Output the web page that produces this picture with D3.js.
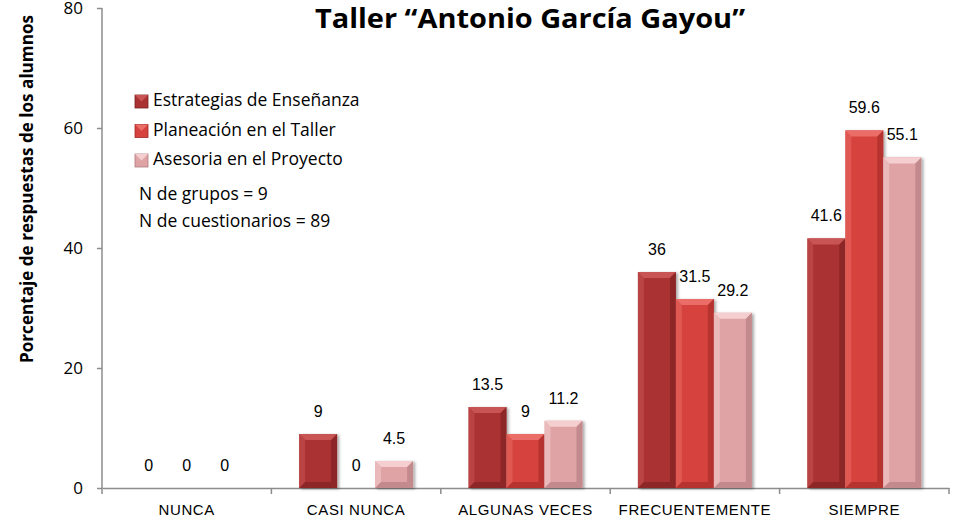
<!DOCTYPE html>
<html>
<head>
<meta charset="utf-8">
<script src="https://cdn.jsdelivr.net/npm/d3@7"></script>
<style>
body { margin: 0; background: #fff; }
svg { display: block; }
</style>
</head>
<body>
<div id="chart"></div>
<script>
"use strict";
var w = 958;
var h = 520;

var categories = ["NUNCA", "CASI NUNCA", "ALGUNAS VECES", "FRECUENTEMENTE", "SIEMPRE"];
var seriesNames = ["Estrategias de Enseñanza", "Planeación en el Taller", "Asesoria en el Proyecto"];
var estrategias = [0, 9, 13.5, 36, 41.6];
var planeacion = [0, 0, 9, 31.5, 59.6];
var asesoria = [0, 4.5, 11.2, 29.2, 55.1];
var yTicks = [0, 20, 40, 60, 80];
var notes = ["N de grupos = 9", "N de cuestionarios = 89"];

var colors = [
    {base: "#ab3232", light: "#c95454", dark: "#7a1f1f"},
    {base: "#d6423e", light: "#ea6d68", dark: "#a02a28"},
    {base: "#dfa2a5", light: "#f5cfd0", dark: "#b07a7d"}
];

function init() {
    draw();
}
window.onload = init;

function draw() {
    var margin = {top: 8, left: 102, right: 9, bottom: 32};
    var svg = d3.select("#chart").append("svg")
        .attr("width", w).attr("height", h);

    var x = d3.scaleBand()
        .domain(categories)
        .range([margin.left, w - margin.right])
        .paddingInner(0).paddingOuter(0);
    var x1 = d3.scaleBand()
        .domain(d3.range(3))
        .range([(x.bandwidth() - 114) / 2, (x.bandwidth() + 114) / 2]);
    var y = d3.scaleLinear()
        .domain([0, 80])
        .range([h - margin.bottom, margin.top]);

    var table = categories.map(function (c, i) {
        return {cat: c, vals: [estrategias[i], planeacion[i], asesoria[i]]};
    });

    // shadow filter
    var defs = svg.append("defs");
    var f = defs.append("filter").attr("id", "shadow")
        .attr("x", "-20%").attr("y", "-20%").attr("width", "150%").attr("height", "150%");
    f.append("feDropShadow").attr("dx", 2).attr("dy", 1).attr("stdDeviation", 1.5)
        .attr("flood-color", "#000").attr("flood-opacity", 0.35);

    // axes
    var yAxis = svg.append("g")
        .attr("transform", "translate(" + margin.left + ",0)")
        .call(d3.axisLeft(y).tickValues(yTicks).tickSize(5).tickPadding(14));
    yAxis.select(".domain").attr("stroke", "#8c8c8c").attr("stroke-width", 1.5).attr("d", "M0," + y(80) + "V" + y(0));
    yAxis.selectAll(".tick line").attr("stroke", "#8c8c8c").attr("stroke-width", 1.5);
    yAxis.selectAll(".tick text")
        .attr("font-family", "'Open Sans', sans-serif").attr("font-size", 17).attr("fill", "#000");

    var xAxis = svg.append("g")
        .attr("transform", "translate(0," + y(0) + ")")
        .call(d3.axisBottom(x).tickSize(0).tickPadding(16));
    xAxis.select(".domain").attr("stroke", "#8c8c8c").attr("stroke-width", 1.5);
    xAxis.selectAll(".tick text")
        .attr("font-family", "'Liberation Sans', sans-serif").attr("font-size", 15)
        .attr("letter-spacing", 0.6).attr("fill", "#000");
    xAxis.selectAll(".sep")
        .data(categories.concat(["end"]))
        .enter().append("line")
        .attr("x1", function (d, i) { return i < categories.length ? x(d) : x.range()[1]; })
        .attr("x2", function (d, i) { return i < categories.length ? x(d) : x.range()[1]; })
        .attr("y1", 0).attr("y2", 6)
        .attr("stroke", "#8c8c8c").attr("stroke-width", 1.5);

    // bars
    var groups = svg.selectAll(".grp")
        .data(table).enter().append("g")
        .attr("class", "grp")
        .attr("transform", function (d) { return "translate(" + x(d.cat) + ",0)"; });

    var bars = groups.selectAll(".bar")
        .data(function (d) { return d.vals.map(function (v, i) { return {v: v, s: i}; }); })
        .enter().append("g").attr("class", "bar");

    bars.filter(function (d) { return d.v > 0; }).each(function (d) {
        var g = d3.select(this);
        var x0 = x1(d.s), bw = x1.bandwidth(), top = y(d.v), bot = y(0);
        var b = Math.min(6, (bot - top) / 2);
        var c = colors[d.s];
        g.append("rect")
            .attr("x", x0).attr("y", top).attr("width", bw).attr("height", bot - top)
            .attr("fill", c.base).attr("filter", "url(#shadow)");
        // top bevel
        g.append("path")
            .attr("d", "M" + x0 + "," + top + "H" + (x0 + bw) + "L" + (x0 + bw - b) + "," + (top + b) + "H" + (x0 + b) + "Z")
            .attr("fill", c.light);
        // left bevel
        g.append("path")
            .attr("d", "M" + x0 + "," + top + "L" + (x0 + b) + "," + (top + b) + "V" + (bot - b) + "L" + x0 + "," + bot + "Z")
            .attr("fill", c.light).attr("opacity", 0.5);
        // right bevel
        g.append("path")
            .attr("d", "M" + (x0 + bw) + "," + top + "L" + (x0 + bw - b) + "," + (top + b) + "V" + (bot - b) + "L" + (x0 + bw) + "," + bot + "Z")
            .attr("fill", c.dark).attr("opacity", 0.6);
        // bottom bevel
        g.append("path")
            .attr("d", "M" + x0 + "," + bot + "H" + (x0 + bw) + "L" + (x0 + bw - b) + "," + (bot - b) + "H" + (x0 + b) + "Z")
            .attr("fill", c.dark).attr("opacity", 0.6);
    });

    bars.append("text")
        .attr("x", function (d) { return x1(d.s) + x1.bandwidth() / 2; })
        .attr("y", function (d) { return y(d.v) - 17; })
        .attr("text-anchor", "middle")
        .attr("font-family", "'Liberation Sans', sans-serif").attr("font-size", 16).attr("fill", "#000")
        .text(function (d) { return d.v; });

    // title
    svg.append("text")
        .attr("x", 530).attr("y", 28)
        .attr("text-anchor", "middle")
        .attr("font-family", "'Open Sans', sans-serif").attr("font-weight", "bold").attr("font-size", 26)
        .attr("textLength", 430).attr("lengthAdjust", "spacingAndGlyphs")
        .text("Taller “Antonio García Gayou”");

    // y title
    svg.append("text")
        .attr("transform", "translate(33,189) rotate(-90)")
        .attr("text-anchor", "middle")
        .attr("font-family", "'Open Sans', sans-serif").attr("font-weight", "bold").attr("font-size", 17)
        .attr("textLength", 348).attr("lengthAdjust", "spacingAndGlyphs")
        .text("Porcentaje de respuestas de los alumnos");

    // legend
    var legend = svg.append("g").attr("transform", "translate(135,106)");
    var li = legend.selectAll(".li").data(seriesNames).enter().append("g")
        .attr("transform", function (d, i) { return "translate(0," + i * 29.5 + ")"; });
    li.append("rect").attr("x", 0).attr("y", -11).attr("width", 13).attr("height", 13)
        .attr("fill", function (d, i) { return colors[i].base; })
        .attr("stroke", function (d, i) { return colors[i].dark; }).attr("stroke-width", 0.8);
    li.append("path").attr("d", "M0,-11H13L6.5,-4.5Z").attr("fill", function (d, i) { return colors[i].light; });
    li.append("text").attr("x", 18).attr("y", 0)
        .attr("font-family", "'Open Sans', sans-serif").attr("font-size", 17.5)
        .text(function (d) { return d; });

    svg.selectAll(".note").data(notes).enter().append("text")
        .attr("x", 139).attr("y", function (d, i) { return 200 + i * 27; })
        .attr("font-family", "'Open Sans', sans-serif").attr("font-size", 17.5)
        .text(function (d) { return d; });
}
</script>
</body>
</html>
